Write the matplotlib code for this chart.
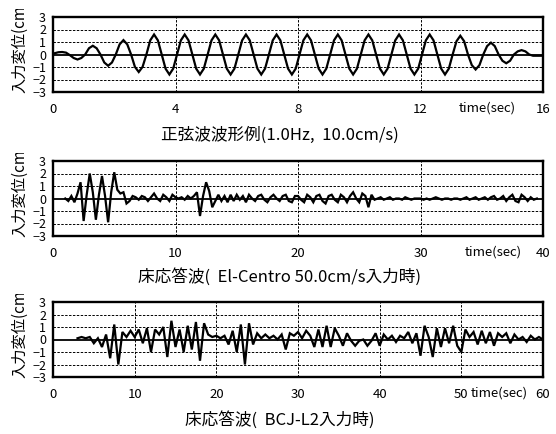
import numpy as np
import matplotlib
matplotlib.use('Agg')
import matplotlib.pyplot as plt
from matplotlib.transforms import Bbox, TransformedBbox

plt.rcParams['font.family'] = ['Noto Sans CJK JP', 'DejaVu Sans']
plt.rcParams['axes.unicode_minus'] = True

# --- data ---
# sine test wave, sampled every 0.125 s from t = 0.05 s (one row = one cycle)
sine_t0, sine_dt = 0.05, 0.125
sine_disp = [
    0.1, 0.18, 0.2, 0.15, -0.05, -0.28, -0.4, -0.28,
    0.0, 0.5, 0.7, 0.5, 0.0, -0.64, -0.9, -0.64,
    0.0, 0.81, 1.15, 0.81, 0.0, -0.99, -1.4, -0.99,
    0.0, 1.13, 1.6, 1.13, 0.0, -1.13, -1.6, -1.13,
    0.0, 1.13, 1.6, 1.13, 0.0, -1.13, -1.6, -1.13,
    0.0, 1.13, 1.6, 1.13, 0.0, -1.13, -1.6, -1.13,
    0.0, 1.13, 1.6, 1.13, 0.0, -1.13, -1.6, -1.13,
    0.0, 1.13, 1.6, 1.13, 0.0, -1.13, -1.6, -1.13,
    0.0, 1.13, 1.6, 1.13, 0.0, -1.13, -1.6, -1.13,
    0.0, 1.13, 1.6, 1.13, 0.0, -1.13, -1.6, -1.13,
    0.0, 1.13, 1.6, 1.13, 0.0, -1.13, -1.6, -1.13,
    0.0, 1.13, 1.6, 1.13, 0.0, -1.13, -1.6, -1.13,
    0.0, 1.13, 1.6, 1.13, 0.0, -1.13, -1.6, -1.13,
    0.0, 1.06, 1.5, 1.06, 0.0, -0.85, -1.2, -0.85,
    0.0, 0.67, 0.95, 0.67, 0.0, -0.5, -0.7, -0.5,
    0.0, 0.25, 0.35, 0.25, 0.0, -0.1, -0.1, -0.1,
    -0.1,
]

# El-Centro floor response, every 0.25 s from t = 1.0 s (one row = 2 s)
elc_t0, elc_dt = 1.0, 0.25
elc_disp = [
    0.0, -0.2, 0.2, -0.3, 0.4, 1.3, -1.8, 0.3,
    2.0, 0.5, -1.7, 0.3, 1.8, 0.2, -1.9, 0.5,
    2.1, 0.7, 0.4, 0.5, -0.4, -0.2, 0.2, 0.1,
    -0.1, 0.2, 0.1, -0.2, 0.1, 0.4, 0.0, -0.2,
    0.3, 0.1, -0.2, 0.3, 0.1, 0.0, 0.1, -0.1,
    0.2, 0.0, 0.2, 0.5, -1.4, 0.2, 1.3, 0.6,
    -0.7, -0.2, 0.3, -0.2, 0.2, -0.3, 0.3, -0.2,
    0.3, -0.1, 0.2, -0.3, 0.3, 0.0, -0.2, 0.2,
    0.3, -0.1, -0.3, 0.1, 0.3, 0.0, -0.2, 0.2,
    0.3, -0.2, -0.3, 0.2, 0.2, -0.1, -0.3, 0.3,
    0.1, -0.3, 0.2, 0.3, -0.2, -0.4, 0.2, 0.3,
    -0.1, -0.3, 0.3, 0.1, -0.3, 0.2, 0.5, 0.0,
    -0.3, 0.4, 0.2, -0.7, 0.3, -0.1, 0.0, 0.1,
    -0.1, 0.0, 0.1, -0.1, 0.0, 0.0, -0.1, 0.1,
    0.0, -0.1, 0.0, 0.0, 0.0, -0.1, 0.0, -0.1,
    0.0, 0.1, 0.0, -0.1, 0.0, 0.0, -0.1, 0.0,
    0.0, -0.1, 0.0, 0.1, -0.1, 0.0, 0.1, -0.1,
    0.0, 0.1, -0.1, 0.1, 0.2, -0.1, 0.0, 0.2,
    -0.2, 0.1, 0.3, -0.2, -0.3, 0.3, 0.1, -0.2,
    0.1, -0.1, 0.0,
]

# BCJ-L2 floor response, every 0.5 s from t = 3.0 s (one row = 4 s)
bcj_t0, bcj_dt = 3.0, 0.5
bcj_disp = [
    0.1, 0.2, 0.1, 0.2, -0.3, 0.1, -0.6, 0.4,
    -1.5, 1.2, -2.0, 0.6, 0.2, 0.7, 0.2, 0.8,
    -0.3, 0.9, -1.0, 0.8, 0.4, 1.0, -1.4, 1.5,
    -0.6, 0.8, -1.0, 1.1, -0.8, 1.4, -1.7, 1.3,
    0.4, 0.2, 0.3, 0.1, 0.3, -0.4, 0.7, -1.0,
    1.2, -2.0, 1.3, -0.4, 0.5, 0.1, 0.4, 0.1,
    0.3, 0.0, 0.4, -0.8, 0.5, 0.3, 0.6, 0.1,
    0.7, 0.3, -0.6, 0.8, -0.6, 1.1, -0.6, 0.9,
    0.3, -0.5, 0.5, -0.1, -0.5, -0.1, 0.0, -0.5,
    -0.1, 0.5, -0.5, 0.4, 0.0, 0.3, -0.2, 0.3,
    0.1, 0.6, -0.3, 0.5, -1.3, 1.1, 0.2, -1.4,
    0.9, -0.6, 0.9, -0.3, 1.1, -0.5, -1.0, 0.8,
    0.2, 0.6, -0.4, 0.7, -0.3, 0.6, -0.5, 0.5,
    0.2, 0.5, -0.3, 0.4, 0.0, 0.2, -0.2, 0.3,
    0.0, 0.2, 0.0,
]

panels = [
    dict(t0=sine_t0, dt=sine_dt, y=sine_disp, xmax=16, ticks=[0, 4, 8, 12, 16],
         time_at=14.17, title='正弦波波形例(1.0Hz,  10.0cm/s)'),
    dict(t0=elc_t0, dt=elc_dt, y=elc_disp, xmax=40, ticks=[0, 10, 20, 30, 40],
         time_at=35.9, title='床応答波(  El-Centro 50.0cm/s入力時)'),
    dict(t0=bcj_t0, dt=bcj_dt, y=bcj_disp, xmax=60, ticks=[0, 10, 20, 30, 40, 50, 60],
         time_at=54.6, title='床応答波(  BCJ-L2入力時)'),
]

W, H = 556, 434
fig = plt.figure(figsize=(W / 100, H / 100), dpi=100)

ax_left, ax_right = 53, 543
ax_tops = [17, 161, 302]
ax_h = 75
title_y = [135, 277, 420]

for p, top, ty in zip(panels, ax_tops, title_y):
    ax = fig.add_axes([ax_left / W, 1 - (top + ax_h) / H,
                       (ax_right - ax_left) / W, ax_h / H])
    t = p['t0'] + p['dt'] * np.arange(len(p['y']))
    ax.plot(t, p['y'], color='black', lw=1.6, solid_joinstyle='miter', zorder=3)
    ax.axhline(0, color='black', lw=1.3, zorder=2)
    for yv in [-2, -1, 1, 2]:
        ax.axhline(yv, color='black', lw=0.7, ls=(0, (2.5, 1.5)), zorder=1)
    for xv in p['ticks'][1:-1]:
        ax.axvline(xv, color='black', lw=0.7, ls=(0, (2.5, 1.5)), zorder=1)

    ax.set_xlim(0, p['xmax'])
    ax.set_ylim(-3, 3)
    ax.set_yticks([3, 2, 1, 0, -1, -2, -3])
    ax.set_yticklabels(['3', '2', '1', '0', '\u22121', '\u22122', '\u22123'])
    ax.set_xticks(p['ticks'])
    ax.tick_params(length=0)
    ax.tick_params(axis='x', pad=8, labelsize=9.5)
    ax.tick_params(axis='y', pad=5, labelsize=9)
    for s in ax.spines.values():
        s.set_linewidth(1.7)

    ax.text(p['time_at'], -0.215, 'time(sec)', ha='center', va='center',
            fontsize=9.5, transform=ax.get_xaxis_transform())

    # y label, clipped at the top like the source image
    lab = fig.text(20 / W, 1 - (top + ax_h + 1) / H, '入力変位(cm)',
                   rotation=90, ha='center', va='bottom', fontsize=11)
    clip = TransformedBbox(Bbox([[0, 1 - (top + ax_h + 5) / H],
                                 [45 / W, 1 - (top - 8) / H]]), fig.transFigure)
    lab.set_clip_box(clip)
    lab.set_clip_on(True)

    fig.text(280 / W, 1 - ty / H, p['title'], ha='center', va='center',
             fontsize=12)

fig.savefig('out.png', dpi=100)
